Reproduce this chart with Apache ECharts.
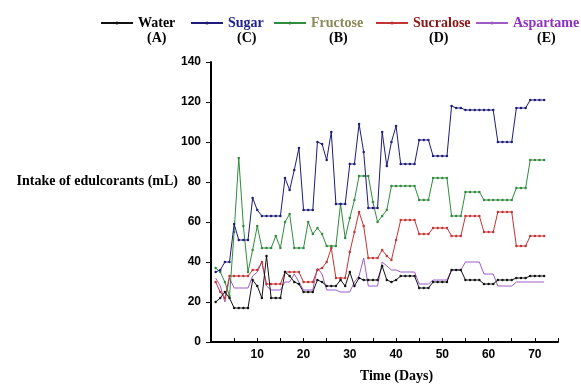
<!DOCTYPE html>
<html>
<head>
<meta charset="utf-8">
<script src="https://cdn.jsdelivr.net/npm/echarts@6/dist/echarts.min.js"></script>
<style>
  html, body { margin: 0; padding: 0; background: #fff; }
  #main { width: 581px; height: 388px; }
</style>
</head>
<body>
<div id="main"></div>
<script>
// time axis (days)
const days = [1,2,3,4,5,6,7,8,9,10,11,12,13,14,15,16,17,18,19,20,21,22,23,24,25,26,27,28,29,30,31,32,33,34,35,36,
  37,38,39,40,41,42,43,44,45,46,47,48,49,50,51,52,53,54,55,56,57,58,59,60,61,62,63,64,65,66,67,68,69,70,71,72]

// intake (mL)
const water = [20,22,25,22,17,17,17,17,31,28,22,43,22,22,22,35,33,30,29,25,25,25,31,30,28,28,28,31,28,35,28,32,31,31,31,31,
  38,31,30,31,33,33,33,33,27,27,27,30,30,30,30,36,36,36,31,31,31,31,29,29,29,31,31,31,31,32,32,32,33,33,33,33]
const sugar = [35,36,40,40,59,51,51,51,72,66,63,63,63,63,63,82,76,86,97,66,66,66,100,99,91,105,69,69,69,89,89,109,95,67,67,67,
  105,88,100,108,89,89,89,89,101,101,101,93,93,93,93,118,117,117,116,116,116,116,116,116,116,100,100,100,100,117,117,117,121,121,121,121]
const fructose = [37,35,30,23,55,92,58,35,46,58,47,47,47,53,47,60,64,47,47,47,60,54,57,54,48,48,48,69,52,62,71,83,83,83,70,60,
  63,66,78,78,78,78,78,78,71,71,71,82,82,82,82,63,63,63,75,75,75,75,71,71,71,71,71,71,71,77,77,77,91,91,91,91]
const sucralose = [30,25,22,33,33,33,33,33,36,36,40,29,29,29,29,35,35,35,35,30,30,30,36,37,40,47,32,32,32,45,55,65,58,42,42,42,
  46,43,41,51,61,61,61,61,54,54,54,57,57,57,57,53,53,53,63,63,63,63,55,55,55,65,65,65,65,48,48,48,53,53,53,53]
const aspartame = [32,28,20,32,27,27,27,27,33,35,40,28,26,26,26,30,30,34,30,26,26,26,37,34,26,26,26,25,25,25,30,33,42,28,28,28,
  40,38,36,36,35,35,35,35,29,29,29,31,31,31,31,36,36,36,40,40,40,40,34,34,34,28,28,28,28,30,30,30,30,30,30,30]

const names = ['Water', 'Sugar', 'Fructose', 'Sucralose', 'Aspartame']
const letters = ['(A)', '(C)', '(B)', '(D)', '(E)']
const values = [water, sugar, fructose, sucralose, aspartame]

const lineColors = ['#111111', '#1c1c7a', '#2f8c3c', '#c43434', '#9c5cc4']
const textColors = ['#000000', '#1f1f8c', '#8a8858', '#8b1414', '#8e2fc0']
const legendLeft = [100, 190, 273, 375, 475]
const letterX = [157, 247, 339, 439, 547]

const serif = '"Liberation Serif", "Times New Roman", serif'
const sans = '"Liberation Sans", Arial, sans-serif'

let myChart = echarts.init(document.getElementById('main'))

myChart.setOption({
  animation: false,
  backgroundColor: '#fff',
  grid: { left: 211, right: 23, top: 62, bottom: 45 },
  legend: names.map((n, i) => ({
    data: [n],
    left: legendLeft[i],
    top: 16,
    padding: 0,
    itemWidth: 32,
    itemHeight: 4,
    textStyle: { color: textColors[i], fontFamily: serif, fontWeight: 'bold', fontSize: 14 }
  })),
  graphic: letters.map((t, i) => ({
    type: 'text',
    left: letterX[i] - 10,
    top: 31,
    style: { text: t, fill: '#000', font: 'bold 14px ' + serif, width: 20, align: 'center' }
  })).concat([{
    // y axis title sits level with the 80 tick in the original
    type: 'text',
    right: 581 - 178,
    top: 174,
    style: { text: 'Intake of edulcorants (mL)', fill: '#000', font: 'bold 14px ' + serif }
  }]),
  xAxis: {
    type: 'value',
    min: 0,
    max: 75,
    interval: 5,
    name: 'Time (Days)',
    nameLocation: 'middle',
    nameGap: 27,
    nameTextStyle: { color: '#000', fontFamily: serif, fontWeight: 'bold', fontSize: 14, padding: [0, 0, 0, 24] },
    axisLine: { lineStyle: { color: '#000', width: 2 } },
    axisTick: { inside: true, length: 4, lineStyle: { color: '#000' } },
    axisLabel: {
      margin: 7,
      color: '#000', fontFamily: sans, fontWeight: 'bold', fontSize: 12,
      formatter: v => (v > 0 && v % 10 === 0) ? String(v) : ''
    },
    splitLine: { show: false }
  },
  yAxis: {
    type: 'value',
    min: 0,
    max: 140,
    interval: 20,
    axisLine: { show: true, lineStyle: { color: '#000', width: 2 } },
    axisTick: { show: true, length: 5, lineStyle: { color: '#000' } },
    axisLabel: { margin: 10, color: '#000', fontFamily: sans, fontWeight: 'bold', fontSize: 12 },
    splitLine: { show: false }
  },
  series: names.map((n, i) => ({
    name: n,
    type: 'line',
    data: days.map((d, k) => [d, values[i][k]]),
    color: lineColors[i],
    symbol: n === 'Aspartame' ? 'none' : 'circle',
    symbolSize: 2.5,
    showAllSymbol: true,
    lineStyle: { width: 1, color: lineColors[i] },
    itemStyle: { color: lineColors[i] },
    z: 10 - i
  }))
})
</script>
</body>
</html>
